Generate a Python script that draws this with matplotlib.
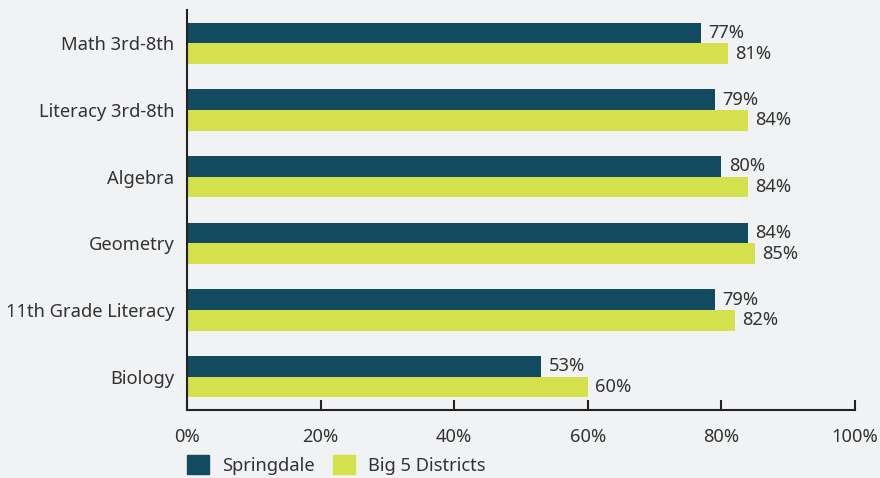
import matplotlib
matplotlib.use("Agg")
import matplotlib.pyplot as plt
import numpy as np
from matplotlib.patches import Patch

categories = ["Math 3rd-8th", "Literacy 3rd-8th", "Algebra", "Geometry", "11th Grade Literacy", "Biology"]
springdale = [77, 79, 80, 84, 79, 53]
big5 = [81, 84, 84, 85, 82, 60]
series_names = ["Springdale", "Big 5 Districts"]
xticks = [0, 20, 40, 60, 80, 100]

bg = "#f1f2f4"
c_dark = "#124a5f"
c_yel = "#d5e04d"
txt = "#333333"
fs = 13.2

plt.rcParams['font.family'] = ['Noto Sans', 'DejaVu Sans']

fig = plt.figure(figsize=(8.8, 4.78), dpi=100, facecolor=bg)
ax = fig.add_axes([187/880, 1-410/478, (855-187)/880, 400/478])
ax.set_facecolor(bg)

y = np.arange(len(categories))
h = 0.31
b1 = ax.barh(y - h/2, springdale, height=h, color=c_dark)
b2 = ax.barh(y + h/2, big5, height=h, color=c_yel)
for bars, vals in ((b1, springdale), (b2, big5)):
    for bar, v in zip(bars, vals):
        ax.text(bar.get_width() + 1.1, bar.get_y() + bar.get_height()/2, f"{v}%",
                va="center", ha="left", fontsize=fs, color=txt)

ax.set_ylim(len(categories) - 0.5, -0.5)
ax.set_xlim(0, 100)
ax.set_yticks(y)
ax.set_yticklabels(categories, fontsize=fs, color=txt)
ax.set_xticks(xticks)
ax.set_xticklabels([f"{t}%" for t in xticks], fontsize=fs, color=txt)
ax.tick_params(axis="y", length=0, pad=9)
ax.tick_params(axis="x", direction="in", length=7, width=1.5, color="#222222", pad=13)
for s in ["top", "right"]:
    ax.spines[s].set_visible(False)
for s in ["left", "bottom"]:
    ax.spines[s].set_color("#222222")
    ax.spines[s].set_linewidth(1.5)

handles = [Patch(color=c_dark), Patch(color=c_yel)]
leg = fig.legend(handles, series_names, loc="center left", bbox_to_anchor=(180/880, 1-465/478),
                 ncol=2, frameon=False, fontsize=fs, handlelength=1.2, handleheight=1.2,
                 columnspacing=1.0, handletextpad=0.7, borderaxespad=0)
for t in leg.get_texts():
    t.set_color(txt)

fig.savefig("out.png", dpi=100, facecolor=bg)
